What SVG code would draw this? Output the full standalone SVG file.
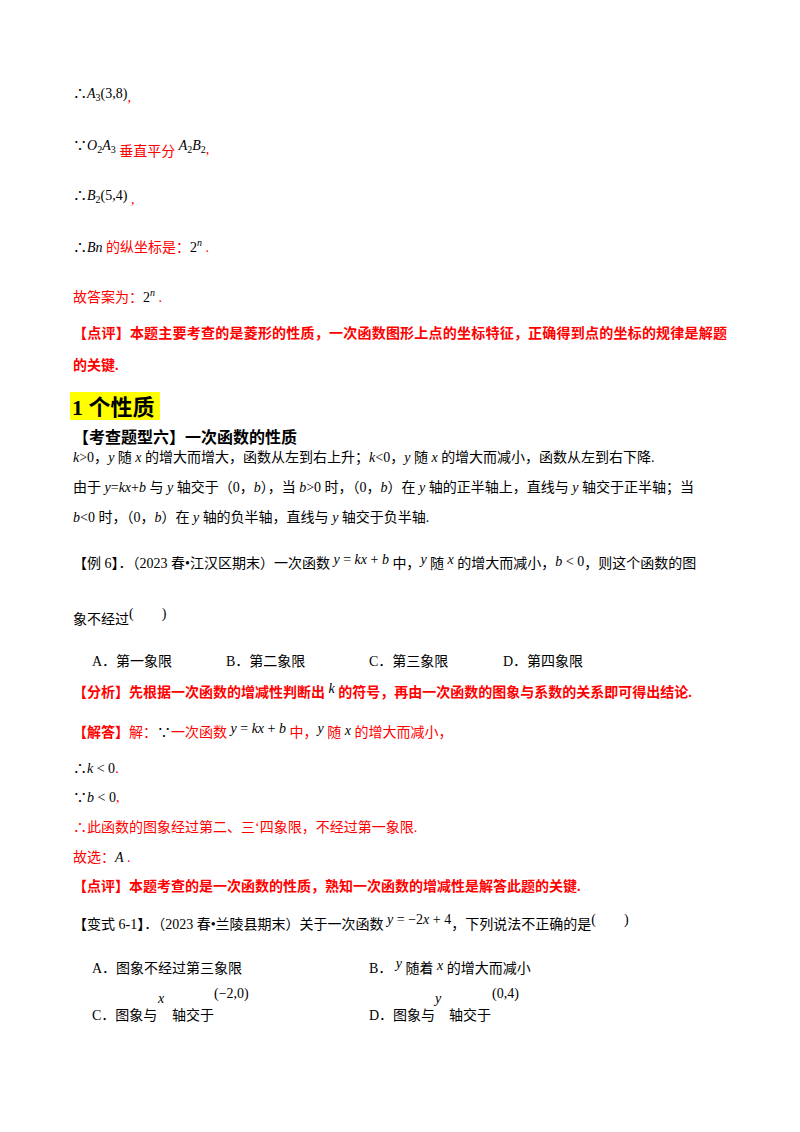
<svg xmlns="http://www.w3.org/2000/svg" width="800" height="1132" viewBox="0 0 800 1132">
<style>
text{font-family:"Liberation Serif","Noto Sans CJK SC",serif;font-size:14px;fill:#000}
.r{fill:#ff0000}
.b{font-weight:bold}
.i{font-style:italic}
.s{font-size:10px}
</style>
<rect width="800" height="1132" fill="#fff"/>
<text x="73" y="98">∴<tspan class="i">A</tspan><tspan class="s" dy="3">3</tspan><tspan dy="-3">(3,8)</tspan><tspan class="r" dy="4">,</tspan></text>
<text x="73" y="150">∵<tspan class="i">O</tspan><tspan class="s" dy="3">2</tspan><tspan class="i" dy="-3">A</tspan><tspan class="s" dy="3">3</tspan><tspan class="r" dy="3"> 垂直平分 </tspan><tspan class="i" dy="-6">A</tspan><tspan class="s" dy="3">2</tspan><tspan class="i" dy="-3">B</tspan><tspan class="s" dy="3">2</tspan><tspan class="r" dy="1">,</tspan></text>
<text x="73" y="200">∴<tspan class="i">B</tspan><tspan class="s" dy="3">2</tspan><tspan dy="-3">(5,4)</tspan><tspan class="r" dy="4"> ,</tspan></text>
<text x="73" y="252">∴<tspan class="i">Bn</tspan><tspan class="r"> 的纵坐标是：</tspan>2<tspan class="s i" dy="-6">n</tspan><tspan class="r" dy="6"> .</tspan></text>
<text x="73" y="302" class="r">故答案为：<tspan fill="#000">2</tspan><tspan class="s i" fill="#000" dy="-6">n</tspan><tspan dy="6"> .</tspan></text>
<text x="73" y="338" class="r b" textLength="654">【点评】本题主要考查的是菱形的性质，一次函数图形上点的坐标特征，正确得到点的坐标的规律是解题</text>
<text x="73" y="370" class="r b">的关键.</text>
<rect x="70" y="392" width="90" height="28" fill="#ffff00"/>
<text x="72" y="415" class="b" style="font-size:22px">1 个性质</text>
<text x="73" y="443" class="b" style="font-size:16px">【考查题型六】一次函数的性质</text>
<text x="73" y="462"><tspan class="i">k</tspan>&gt;0，<tspan class="i">y</tspan> 随 <tspan class="i">x</tspan> 的增大而增大，函数从左到右上升；<tspan class="i">k</tspan>&lt;0，<tspan class="i">y</tspan> 随 <tspan class="i">x</tspan> 的增大而减小，函数从左到右下降.</text>
<text x="73" y="492">由于 <tspan class="i">y</tspan>=<tspan class="i">kx</tspan>+<tspan class="i">b</tspan> 与 <tspan class="i">y</tspan> 轴交于（0，<tspan class="i">b</tspan>），当 <tspan class="i">b</tspan>&gt;0 时，（0，<tspan class="i">b</tspan>）在 <tspan class="i">y</tspan> 轴的正半轴上，直线与 <tspan class="i">y</tspan> 轴交于正半轴；当</text>
<text x="73" y="522"><tspan class="i">b</tspan>&lt;0 时，（0，<tspan class="i">b</tspan>）在 <tspan class="i">y</tspan> 轴的负半轴，直线与 <tspan class="i">y</tspan> 轴交于负半轴.</text>
<text x="73" y="568">【例 6】．（2023 春•江汉区期末）一次函数 <tspan class="i" dy="-4">y</tspan> = <tspan class="i">kx</tspan> + <tspan class="i">b</tspan><tspan dy="4"> 中，</tspan><tspan class="i" dy="-4">y</tspan><tspan dy="4"> 随 </tspan><tspan class="i" dy="-4">x</tspan><tspan dy="4"> 的增大而减小，</tspan><tspan class="i" dy="-2">b</tspan> &lt; 0<tspan dy="2">，则这个函数的图</tspan></text>
<text x="73" y="624">象不经过<tspan dy="-6">(</tspan><tspan dx="28">)</tspan></text>
<g>
<text x="92" y="666">A．第一象限</text>
<text x="226" y="666">B．第二象限</text>
<text x="369" y="666">C．第三象限</text>
<text x="503" y="666">D．第四象限</text>
</g>
<text x="73" y="697" class="r b">【分析】先根据一次函数的增减性判断出 <tspan class="i" fill="#000" font-weight="normal" dy="-4">k</tspan><tspan dy="4"> 的符号，再由一次函数的图象与系数的关系即可得出结论.</tspan></text>
<text x="73" y="737" class="r b">【解答】<tspan font-weight="normal">解：</tspan><tspan fill="#000" font-weight="normal">∵</tspan><tspan font-weight="normal">一次函数 </tspan><tspan fill="#000" font-weight="normal" dy="-4"><tspan class="i">y</tspan> = <tspan class="i">kx</tspan> + <tspan class="i">b</tspan></tspan><tspan font-weight="normal" dy="4"> 中，</tspan><tspan fill="#000" class="i" font-weight="normal" dy="-4">y</tspan><tspan font-weight="normal" dy="4"> 随 </tspan><tspan fill="#000" class="i" font-weight="normal" dy="-2">x</tspan><tspan font-weight="normal" dy="2"> 的增大而减小，</tspan></text>
<text x="73" y="773">∴<tspan class="i">k</tspan> &lt; 0<tspan class="r">.</tspan></text>
<text x="73" y="802">∵<tspan class="i">b</tspan> &lt; 0<tspan class="r">,</tspan></text>
<text x="73" y="832" class="r">∴此函数的图象经过第二、三‘四象限，不经过第一象限.</text>
<text x="73" y="862" class="r">故选：<tspan class="i" fill="#000">A</tspan> .</text>
<text x="73" y="891" class="r b">【点评】本题考查的是一次函数的性质，熟知一次函数的增减性是解答此题的关键.</text>
<text x="73" y="929">【变式 6-1】．（2023 春•兰陵县期末）关于一次函数 <tspan dy="-5"><tspan class="i">y</tspan> = −2<tspan class="i">x</tspan> + 4</tspan><tspan dy="5">，下列说法不正确的是</tspan><tspan dy="-5">(</tspan><tspan dx="28">)</tspan></text>
<g>
<text x="92" y="973">A．图象不经过第三象限</text>
<text x="369" y="973">B． <tspan class="i" dy="-5">y</tspan><tspan dy="5"> 随着 </tspan><tspan class="i" dy="-3">x</tspan><tspan dy="3"> 的增大而减小</tspan></text>
<text x="92" y="1020">C．图象与</text>
<text x="158" y="1003" class="i">x</text>
<text x="172" y="1020">轴交于</text>
<text x="214" y="998">(−2,0)</text>
<text x="369" y="1020">D．图象与</text>
<text x="435" y="1003" class="i">y</text>
<text x="449" y="1020">轴交于</text>
<text x="492" y="998">(0,4)</text>
</g>
</svg>
